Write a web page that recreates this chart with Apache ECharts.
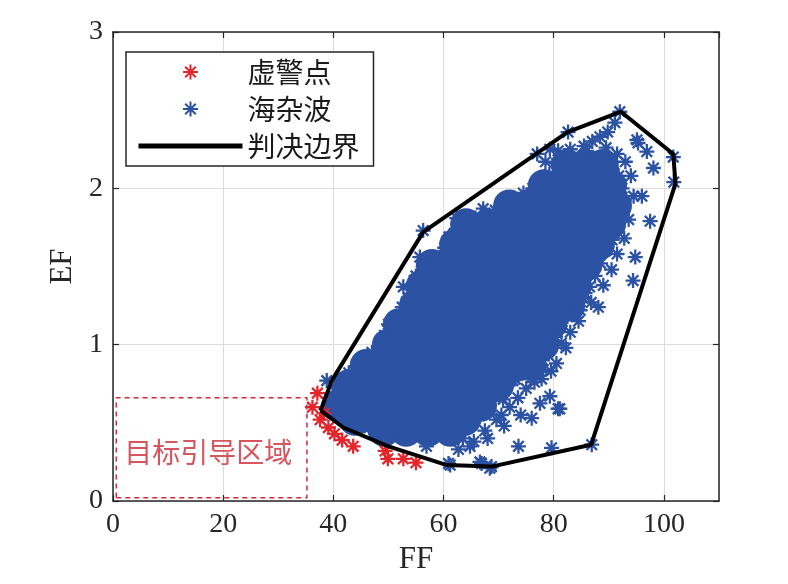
<!DOCTYPE html>
<html><head><meta charset="utf-8">
<script src="https://cdn.jsdelivr.net/npm/echarts@6/dist/echarts.min.js"></script>
<style>html,body{margin:0;padding:0;background:#fff}#c{width:788px;height:584px}</style>
</head><body><div id="c"></div>
<script>
const xTicks = [0, 20, 40, 60, 80, 100];
const yTicks = [0, 1, 2, 3];
const xRange = [0, 110];
const yRange = [0, 3];

const falseAlarm = [[37.1,0.69],[36.2,0.60],[37.6,0.52],[39.1,0.47],[41.6,0.39],[43.6,0.35],[49.4,0.32],[49.9,0.27],[52.7,0.27],[55.0,0.245],[38.3,0.56],[40.2,0.43]];

const clutterCore = [
  [82.4,2.15],[85.7,2.15],[88.9,2.15],
  [78.2,2.02],[82.2,2.02],[86.2,2.02],[90.4,2.02],
  [71.9,1.89],[75.9,1.89],[79.9,1.89],[83.9,1.89],[87.9,1.89],[91.3,1.89],
  [64.1,1.77],[68.1,1.77],[72.1,1.77],[76.1,1.77],[80.1,1.77],[84.0,1.77],[88.0,1.77],[90.2,1.77],
  [62.1,1.64],[66.1,1.64],[70.1,1.64],[74.1,1.64],[78.1,1.64],[82.0,1.64],[86.0,1.64],[88.2,1.64],
  [57.9,1.51],[61.9,1.51],[65.9,1.51],[69.9,1.51],[73.9,1.51],[77.9,1.51],[81.9,1.51],[85.9,1.51],
  [56.1,1.38],[60.1,1.38],[64.1,1.38],[68.1,1.38],[72.1,1.38],[76.1,1.38],[80.1,1.38],[84.0,1.38],
  [54.8,1.25],[58.8,1.25],[62.8,1.25],[66.8,1.25],[70.8,1.25],[74.8,1.25],[78.8,1.25],[82.8,1.25],
  [51.9,1.13],[55.9,1.13],[59.9,1.13],[63.9,1.13],[67.9,1.13],[71.9,1.13],[75.9,1.13],[79.5,1.13],
  [49.9,1.0],[53.9,1.0],[57.9,1.0],[61.9,1.0],[65.9,1.0],[69.9,1.0],[73.9,1.0],[78.1,1.0],
  [45.9,0.87],[49.9,0.87],[53.9,0.87],[57.9,0.87],[61.9,0.87],[65.9,0.87],[69.9,0.87],[73.9,0.87],[75.7,0.87],
  [42.8,0.74],[46.8,0.74],[50.8,0.74],[54.8,0.74],[58.8,0.74],[62.8,0.74],[66.8,0.74],[69.9,0.74],
  [40.7,0.61],[44.7,0.61],[48.6,0.61],[52.6,0.61],[56.6,0.61],[60.6,0.61],[64.6,0.61],[66.8,0.61],
  [43.9,0.52],[47.9,0.52],[51.9,0.52],[55.9,0.52],[59.9,0.52],[63.9,0.52],
  [49.2,0.45],[53.2,0.45],[57.2,0.45],[61.2,0.45]
];

const clutterEdge = [
  [39.0,0.60],[40.5,0.55],[42.5,0.52],[44.5,0.49],[46.5,0.47],[48.5,0.46],[50.5,0.44],[52.5,0.43],[54.5,0.43],[56.5,0.42],
  [58.5,0.42],[60.5,0.43],[62.5,0.45],[64.0,0.49],[65.8,0.53],[67.2,0.58],[68.5,0.64],[70.0,0.68],[71.5,0.74],[73.0,0.78],
  [74.8,0.83],[76.5,0.86],[78.0,0.90],[79.3,0.97],[80.3,1.05],[81.2,1.12],[82.5,1.18],[84.0,1.23],[85.3,1.30],[86.5,1.37],
  [87.5,1.44],[88.5,1.52],[89.4,1.60],[90.6,1.67],[91.7,1.75],[92.5,1.83],[92.8,1.92],[92.4,2.00],[91.8,2.08],[90.5,2.13],
  [89.0,2.17],[87.3,2.19],[85.5,2.19],[83.7,2.19],[82.0,2.18],[80.5,2.16],[79.2,2.09],[77.8,2.04],[76.2,2.00],[74.5,1.97],
  [72.8,1.94],[71.0,1.90],[69.4,1.86],[67.6,1.83],[65.8,1.81],[64.0,1.78],[62.3,1.74],[61.0,1.69],[60.2,1.62],[59.3,1.56],
  [57.8,1.53],[56.3,1.50],[55.0,1.44],[54.3,1.37],[53.6,1.30],[52.5,1.24],[51.3,1.18],[50.2,1.12],[49.3,1.06],[48.4,1.00],
  [47.0,0.95],[45.6,0.91],[44.2,0.86],[42.8,0.82],[41.5,0.77],[40.3,0.72],[39.2,0.66],
  [70.5,0.55],[72.0,0.60],[73.5,0.66],[75.0,0.72],[76.5,0.76],[74.0,0.55],[71.0,0.48],[68.0,0.40],[65.5,0.38],[63.5,0.40],
  [77.8,0.78],[79.5,0.83],[80.5,0.88],[82.2,0.98],[83.0,1.08],[84.8,1.22],[86.8,1.27],[89.0,1.38],[90.5,1.48],[91.5,1.58],
  [92.8,1.68],[93.6,1.80],[94.5,1.95],[94.0,2.08],[93.0,2.17],[91.5,2.22],[89.5,2.26],[86.0,2.24],[83.0,2.25],[80.8,2.24],[78.5,2.17]
];

const clutterOutliers = [
  [88.4,2.33],[91.1,2.42],[92.0,2.49],[82.6,2.36],[95.1,2.31],[96.9,2.235],[98.1,2.13],[101.7,2.20],[101.8,2.04],[96.0,1.95],
  [97.5,1.79],[94.8,1.56],[94.4,1.41],[88.1,1.24],[95.3,2.29],[79.3,2.25],[77.0,2.22],[85.5,2.27],[87.0,2.30],[89.8,2.36],
  [56.3,1.73],[62.4,1.81],[67.2,1.87],[76.9,2.04],[55.7,1.56],[52.7,1.37],[50.0,1.13],[38.8,0.77],
  [80.8,0.59],[79.3,0.67],[77.5,0.625],[76.0,0.53],[73.6,0.35],[79.6,0.34],[86.9,0.36],[68.4,0.21],[66.6,0.25],[61.2,0.23],
  [69.6,0.52],[81.4,1.01],[78.1,0.84],[83.6,1.20],[85.7,1.33],[64.8,0.35],[62.7,0.33],[66.9,0.24],[68.7,0.22],[60.9,0.24],
  [56.9,0.35],[58.1,0.42],[67.5,0.45],[81.1,0.59],[74.4,0.92],[72.6,0.77],[70.8,0.65],[84.5,1.15]
];

const boundary = [[37.7,0.58],[39.7,0.77],[56.3,1.72],[82.5,2.36],[92.2,2.49],[101.7,2.22],[102.1,2.03],[86.8,0.36],[68.7,0.22],[60.6,0.23],[50.0,0.35],[41.8,0.47],[37.7,0.58]];

const targetRegion = [[0.6,0.02],[35.2,0.02],[35.2,0.66],[0.6,0.66],[0.6,0.02]];
const targetLabelPos = [[17.3,0.31]];
const targetLabelText = '目标引导区域';

const BLUE = '#2c52a4';
const RED = '#e3262b';
const DARK = '#262626';
const STAR = 'path://M0,-10L0,10M-10,0L10,0M-7.07,-7.07L7.07,7.07M-7.07,7.07L7.07,-7.07';
const serif = '"Liberation Serif", "Times New Roman", serif';
const cjk = '"Noto Sans CJK SC", sans-serif';

const chart = echarts.init(document.getElementById('c'), null, {renderer: 'canvas'});
const axisCommon = {
  axisLine: {show: true, onZero: false, lineStyle: {color: DARK, width: 1.5}},
  axisTick: {show: true, inside: true, length: 6, lineStyle: {color: DARK, width: 1.2}},
};
const starStyle = c => ({color: c, borderColor: c, borderWidth: 2.3, opacity: 1});
chart.setOption({
  animation: false,
  backgroundColor: '#fff',
  grid: {left: 113, right: 69, top: 32, bottom: 83},
  legend: {
    orient: 'vertical', left: 126, top: 52,
    data: ['虚警点', '海杂波', {name: '判决边界', itemStyle: {opacity: 0}}],
    itemWidth: 104, itemHeight: 15, itemGap: 7,
    padding: [5, 14, 5, 10],
    lineStyle: {width: 5},
    borderColor: DARK, borderWidth: 1.5, backgroundColor: '#fff',
    textStyle: {fontFamily: cjk, fontSize: 28, color: '#1a1a1a', lineHeight: 30},
    selectedMode: false
  },
  xAxis: [
    Object.assign({type: 'value', min: xRange[0], max: xRange[1], interval: xTicks[1] - xTicks[0],
      name: 'FF', nameLocation: 'middle', nameGap: 43,
      nameTextStyle: {fontFamily: serif, fontSize: 31, color: DARK},
      axisLabel: {fontFamily: serif, fontSize: 28, color: DARK, margin: 10, showMaxLabel: false,
        formatter: v => xTicks.includes(v) ? String(v) : ''},
      splitLine: {show: true, lineStyle: {color: '#dcdcdc', width: 1}}}, axisCommon),
    Object.assign({type: 'value', position: 'top', min: xRange[0], max: xRange[1], interval: xTicks[1] - xTicks[0],
      axisLabel: {show: false}, splitLine: {show: false}}, axisCommon)
  ],
  yAxis: [
    Object.assign({type: 'value', min: yRange[0], max: yRange[1], interval: yTicks[1] - yTicks[0],
      name: 'EF', nameLocation: 'middle', nameGap: 32,
      nameTextStyle: {fontFamily: serif, fontSize: 31, color: DARK},
      axisLabel: {fontFamily: serif, fontSize: 28, color: DARK, margin: 10},
      splitLine: {show: true, lineStyle: {color: '#dcdcdc', width: 1}}}, axisCommon),
    Object.assign({type: 'value', position: 'right', min: yRange[0], max: yRange[1], interval: yTicks[1] - yTicks[0],
      axisLabel: {show: false}, splitLine: {show: false}}, axisCommon)
  ],
  series: [
    {name: '虚警点', type: 'scatter', data: [], symbol: STAR, symbolSize: 15, symbolKeepAspect: true,
      itemStyle: starStyle(RED)},
    {name: '海杂波', type: 'scatter', data: clutterEdge, symbol: STAR, symbolSize: 15, symbolKeepAspect: true, z: 3,
      itemStyle: starStyle(BLUE)},
    {name: '海杂波核心', type: 'scatter', data: clutterCore, symbol: 'circle', symbolSize: 32, z: 2,
      itemStyle: {color: BLUE, opacity: 1, borderWidth: 0}},
    {name: '海杂波', type: 'scatter', data: clutterOutliers, symbol: STAR, symbolSize: 15, symbolKeepAspect: true, z: 3,
      itemStyle: starStyle(BLUE)},
    {name: '虚警点', type: 'scatter', data: falseAlarm, symbol: STAR, symbolSize: 15, symbolKeepAspect: true, z: 4,
      itemStyle: starStyle(RED)},
    {name: '判决边界', type: 'line', data: boundary, symbol: 'none', z: 5,
      lineStyle: {color: '#000', width: 4}, itemStyle: {color: '#000'}},
    {name: '目标区域', type: 'line', data: targetRegion, symbol: 'none', z: 4,
      lineStyle: {color: '#cc2a36', width: 1.5, type: [5, 4]}},
    {name: '目标区域标注', type: 'scatter', data: targetLabelPos, symbolSize: 0, z: 6,
      label: {show: true, position: 'inside', formatter: targetLabelText, fontFamily: cjk, fontSize: 28, color: '#cc2a36'}}
  ]
});
</script></body></html>
